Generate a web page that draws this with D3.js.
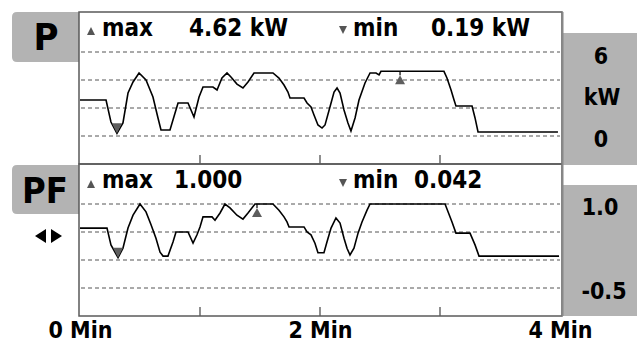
<!DOCTYPE html>
<html><head><meta charset="utf-8">
<script src="https://cdn.jsdelivr.net/npm/d3@7"></script>
<style>
html,body{margin:0;padding:0;background:#fff;}
svg{display:block;}
text{font-family:"DejaVu Sans Condensed","DejaVu Sans",sans-serif;font-weight:bold;fill:#000;}
</style></head><body>
<svg id="c" width="637" height="342"></svg>
<script>
// ---- data ----
const pTime = [0,0.217,0.258,0.308,0.358,0.4,0.442,0.492,0.55,0.608,0.65,0.675,0.75,0.792,0.817,0.9,0.95,0.992,1.025,1.108,1.142,1.183,1.225,1.258,1.308,1.358,1.4,1.45,1.608,1.658,1.7,1.733,1.75,1.867,1.892,1.925,1.95,1.983,2.017,2.042,2.083,2.117,2.142,2.167,2.2,2.233,2.258,2.292,2.325,2.375,2.417,2.467,2.492,2.508,3.033,3.058,3.092,3.117,3.133,3.267,3.292,3.317,3.983];
const pValues = [2.57,2.57,1.0,0.19,0.93,3.07,3.86,4.5,4.0,2.79,1.29,0.43,0.43,1.64,2.36,2.36,1.36,2.79,3.5,3.5,3.29,4.14,4.5,4.21,3.71,3.43,3.86,4.5,4.5,4.14,3.64,3.14,2.71,2.71,2.36,2.07,1.5,0.79,0.57,0.79,2.07,3.14,3.43,3.07,1.86,0.93,0.36,1.29,2.57,3.79,4.5,4.5,4.36,4.62,4.62,4.14,3.29,2.57,2.14,2.14,1.29,0.29,0.29];
const pfTime = [0,0.225,0.258,0.317,0.358,0.4,0.442,0.5,0.55,0.592,0.633,0.667,0.692,0.733,0.775,0.8,0.9,0.942,0.975,1.0,1.025,1.1,1.125,1.167,1.208,1.25,1.308,1.358,1.4,1.458,1.608,1.658,1.7,1.725,1.742,1.867,1.892,1.925,1.958,1.983,2.033,2.058,2.092,2.133,2.167,2.2,2.225,2.25,2.283,2.317,2.35,2.392,2.417,3.042,3.1,3.133,3.25,3.292,3.325,3.992];
const pfValues = [0.57,0.57,0.27,0.042,0.21,0.57,0.8,1.0,0.86,0.63,0.39,0.14,0.07,0.07,0.32,0.5,0.5,0.3,0.45,0.59,0.77,0.77,0.71,0.84,1.0,0.93,0.8,0.73,0.84,1.0,1.0,0.89,0.77,0.68,0.59,0.59,0.5,0.45,0.3,0.13,0.13,0.32,0.57,0.75,0.66,0.39,0.21,0.09,0.21,0.48,0.68,0.89,1.0,1.0,0.68,0.48,0.48,0.27,0.07,0.07];
const timeTicks = [1,2,3];
const timeLabels = [0,2,4];
const pGrid = [0,2,4,6];
const pfGrid = [-0.5,0,0.5,1.0];
const pMax = {t:2.667, v:4.62, label:"4.62 kW"};
const pMin = {t:0.308, v:0.19, label:"0.19 kW"};
const pfMax = {t:1.475, v:1.0, label:"1.000"};
const pfMin = {t:0.317, v:0.042, label:"0.042"};

// ---- layout ----
const svg = d3.select("#c");
const L = 79, R = 562, T1 = 12, B1 = 164, T2 = 164, B2 = 316;
const x = d3.scaleLinear().domain([0,4]).range([80,560]);
const yP = d3.scaleLinear().domain([0,6]).range([136,52]);
const yPF = d3.scaleLinear().domain([-0.5,1.0]).range([288,204]);
const gray = "#b3b3b3";

// gray label boxes
function leftBox(y0,y1){
  const r=5;
  svg.append("path").attr("fill",gray)
    .attr("d",`M${L},${y0} L${12+r},${y0} Q12,${y0} 12,${y0+r} L12,${y1-r} Q12,${y1} ${12+r},${y1} L${L},${y1} Z`);
}
leftBox(12,62);
leftBox(165,214);
svg.append("rect").attr("x",R).attr("y",33).attr("width",637-R).attr("height",165-33).attr("fill",gray);
svg.append("rect").attr("x",R).attr("y",185).attr("width",637-R).attr("height",316-185).attr("fill",gray);
svg.append("rect").attr("x",L).attr("y",T1).attr("width",R-L).attr("height",B2-T1).attr("fill","#fff");

// gridlines
svg.selectAll(".gp").data(pGrid).join("line")
  .attr("x1",L+2).attr("x2",R-2).attr("y1",d=>yP(d)).attr("y2",d=>yP(d))
  .attr("stroke","#555").attr("stroke-width",1).attr("stroke-dasharray","4,3");
svg.selectAll(".gpf").data(pfGrid).join("line")
  .attr("x1",L+2).attr("x2",R-2).attr("y1",d=>yPF(d)).attr("y2",d=>yPF(d))
  .attr("stroke","#555").attr("stroke-width",1).attr("stroke-dasharray","4,3");

// ticks
[B1,B2].forEach(b=>{
  svg.selectAll(null).data(timeTicks).join("line")
    .attr("x1",d=>x(d)).attr("x2",d=>x(d)).attr("y1",b-9).attr("y2",b)
    .attr("stroke","#444").attr("stroke-width",1.2);
});

// lines
const lineP = d3.line().x((d,i)=>x(pTime[i])).y(d=>yP(d));
const linePF = d3.line().x((d,i)=>x(pfTime[i])).y(d=>yPF(d));
svg.append("path").attr("d",lineP(pValues)).attr("fill","none").attr("stroke","#000").attr("stroke-width",1.6);
svg.append("path").attr("d",linePF(pfValues)).attr("fill","none").attr("stroke","#000").attr("stroke-width",1.6);

// panel borders
svg.append("rect").attr("x",L).attr("y",T1).attr("width",R-L).attr("height",B1-T1)
  .attr("fill","none").attr("stroke","#5a5a5a").attr("stroke-width",1.5);
svg.append("rect").attr("x",L).attr("y",T2).attr("width",R-L).attr("height",B2-T2)
  .attr("fill","none").attr("stroke","#5a5a5a").attr("stroke-width",1.5);
svg.append("line").attr("x1",R+0.5).attr("x2",R+0.5).attr("y1",T1).attr("y2",B2).attr("stroke","#888").attr("stroke-width",2);

// markers in plots
const mcol = "#5e5e5e";
function downMarker(px,py){ // tip at point
  svg.append("path").attr("fill",mcol).attr("d",`M${px-5},${py-10} L${px+5},${py-10} L${px},${py} Z`);
}
function upMarker(px,py){ // hanging under line
  svg.append("line").attr("x1",px).attr("x2",px).attr("y1",py).attr("y2",py+4).attr("stroke","#000").attr("stroke-width",1.2);
  svg.append("path").attr("fill",mcol).attr("d",`M${px},${py+4} L${px+5},${py+13} L${px-5},${py+13} Z`);
}
downMarker(x(pMin.t), yP(pMin.v));
upMarker(x(pMax.t), yP(pMax.v));
downMarker(x(pfMin.t), yPF(pfMin.v));
upMarker(x(pfMax.t), yPF(pfMax.v));

// header small triangles
function smallUp(cx,by){ svg.append("path").attr("fill","#555").attr("d",`M${cx},${by-8} L${cx+4},${by} L${cx-4},${by} Z`); }
function smallDown(cx,ty){ svg.append("path").attr("fill","#555").attr("d",`M${cx-4},${ty} L${cx+4},${ty} L${cx},${ty+8} Z`); }
smallUp(91,35); smallDown(343,26);
smallUp(91,188); smallDown(343,179);

// header texts
const hs = 24;
function txt(t,xx,yy,size,anchor){
  return svg.append("text").attr("x",xx).attr("y",yy).attr("font-size",size).attr("text-anchor",anchor||"start").text(t);
}
txt("max",102,36,hs);
txt(pMax.label,189,36,hs);
txt("min",353,36,hs);
txt(pMin.label,431,36,hs);
txt("max",102,188,hs);
txt(pfMax.label,174,188,hs);
txt("min",353,188,hs);
txt(pfMin.label,414,188,hs);

// panel labels
txt("P",46,50,38,"middle");
txt("PF",45,203,36,"middle");
// ◀▶ arrows
svg.append("path").attr("fill","#000").attr("d","M35,236 L46,229 L46,243 Z");
svg.append("path").attr("fill","#000").attr("d","M62,236 L51,229 L51,243 Z");

// right-side scale labels
txt(String(pGrid[3]),601,64,23,"middle");
txt("kW",602,105,23,"middle");
txt(String(pGrid[0]),601,147,23,"middle");
txt(pfGrid[3].toFixed(1),600,215,23,"middle");
txt("-"+Math.abs(pfGrid[0]).toFixed(1),604,299,23,"middle");

// bottom time axis
const ax = d3.axisBottom(x).tickValues(timeLabels).tickSize(0).tickFormat(d=>d+" Min");
const g = svg.append("g").attr("transform","translate(0,321)").call(ax);
g.select(".domain").remove();
g.selectAll("text").attr("font-size",23).attr("font-family",'"DejaVu Sans Condensed","DejaVu Sans",sans-serif')
  .attr("font-weight","bold").attr("fill","#000").attr("dy",null).attr("y",17);
</script>
</body></html>
